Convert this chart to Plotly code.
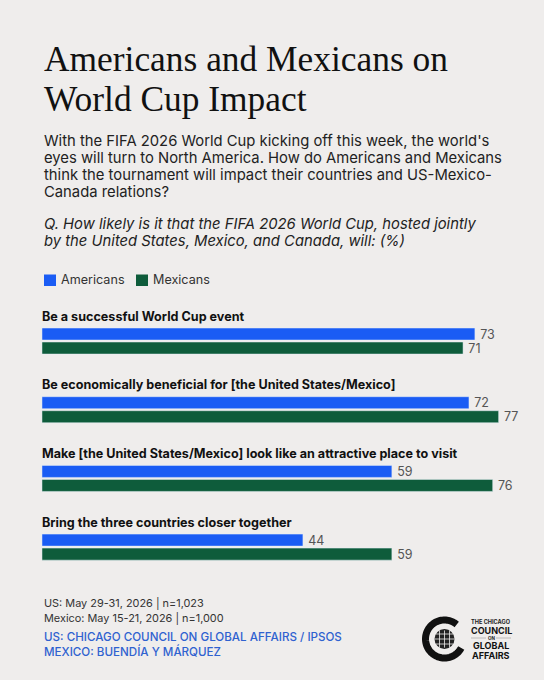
import numpy as np
import plotly.graph_objects as go

W, H = 544, 680

# data
categories = ["Be a successful World Cup event",
              "Be economically beneficial for [the United States/Mexico]",
              "Make [the United States/Mexico] look like an attractive place to visit",
              "Bring the three countries closer together"]
americans = [73, 72, 59, 44]
mexicans = [71, 77, 76, 59]

title_lines = ["Americans and Mexicans on", "World Cup Impact"]
body_lines = ["With the FIFA 2026 World Cup kicking off this week, the world's",
              "eyes will turn to North America. How do Americans and Mexicans",
              "think the tournament will impact their countries and US-Mexico-",
              "Canada relations?"]
question_lines = ["Q. How likely is it that the FIFA 2026 World Cup, hosted jointly",
                  "by the United States, Mexico, and Canada, will: (%)"]
note_lines = ["US: May 29-31, 2026 | n=1,023", "Mexico: May 15-21, 2026 | n=1,000"]
source_lines = ["US: CHICAGO COUNCIL ON GLOBAL AFFAIRS / IPSOS", "MEXICO: BUENDÍA Y MÁRQUEZ"]

BG = "#efedec"
BLUE = "#1a5cf4"
GREEN = "#0e5c3b"
SANS = "Inter"
SERIF = "Liberation Serif"

fig = go.Figure()
fig.add_trace(go.Bar(y=categories, x=americans, name="Americans", orientation="h",
                     marker_color=BLUE, text=americans, texttemplate="\u2009%{text}",
                     textposition="outside", constraintext="none", cliponaxis=False,
                     textfont=dict(family=SANS, size=12.5, color="#555555")))
fig.add_trace(go.Bar(y=categories, x=mexicans, name="Mexicans", orientation="h",
                     marker_color=GREEN, text=mexicans, texttemplate="\u2009%{text}",
                     textposition="outside", constraintext="none", cliponaxis=False,
                     textfont=dict(family=SANS, size=12.5, color="#555555")))


# helpers, everything outside the plot is placed in pixels from the top left
def label(x, y, text, size, color="#222222", family=SANS, **kw):
    fig.add_annotation(xref="paper", yref="paper", x=x / W, y=1 - y / H, text=text,
                       showarrow=False, xanchor=kw.pop("xanchor", "left"), yanchor="middle",
                       borderpad=0, borderwidth=0,
                       font=dict(family=family, size=size, color=color, **kw))


def px_path(points):
    return "M" + " L".join(f"{x / W:.5f},{1 - y / H:.5f}" for x, y in points)


def box(x0, y0, x1, y1, color):
    fig.add_shape(type="rect", xref="paper", yref="paper", x0=x0 / W, x1=x1 / W,
                  y0=1 - y0 / H, y1=1 - y1 / H, fillcolor=color, line_width=0)


def ring(cx, cy, r, start, end, width, color="#111111"):
    a = np.radians(np.linspace(start, end, 80))
    pts = list(zip(cx + r * np.cos(a), cy + r * np.sin(a)))
    fig.add_shape(type="path", xref="paper", yref="paper", path=px_path(pts),
                  line=dict(color=color, width=width))


# title and intro text
for y, t in zip([59, 99], title_lines):
    label(44, y, t, 35.4, "#111111", SERIF)
for y, t in zip([141, 158.2, 174.9, 191.5], body_lines):
    label(44, y, t, 14.8)
for y, t in zip([224, 240.7], question_lines):
    label(44, y, t, 14.8, style="italic")

# legend
box(44, 274.5, 56, 286, BLUE)
label(60.5, 279.5, "Americans", 12.6, "#333333")
box(136, 274.5, 148, 286, GREEN)
label(152.5, 279.5, "Mexicans", 12.6, "#333333")

# question labels above each bar pair
for c in categories:
    fig.add_annotation(xref="x", yref="y", x=0, y=c, text=c, showarrow=False, xanchor="left",
                       yanchor="middle", yshift=25, borderpad=0, borderwidth=0,
                       font=dict(family=SANS, size=12.6, color="#111111", weight=700))

# footer
for y, t in zip([603, 618], note_lines):
    label(44, y, t, 10.9, "#333333")
for y, t in zip([636.5, 651], source_lines):
    label(44, y, t, 11.6, "#2f62d0", weight=500)

# logo
cx, cy = 444.5, 639
ring(cx, cy, 19, 28, 310, 7)
fig.add_shape(type="circle", xref="paper", yref="paper", x0=(cx - 10) / W, x1=(cx + 10) / W,
              y0=1 - (cy - 10) / H, y1=1 - (cy + 10) / H, fillcolor="#222222", line_width=0)
for dy in [-5, 0, 5]:
    half = (100 - dy ** 2) ** 0.5
    fig.add_shape(type="line", xref="paper", yref="paper", x0=(cx - half) / W, x1=(cx + half) / W,
                  y0=1 - (cy + dy) / H, y1=1 - (cy + dy) / H, line=dict(color=BG, width=0.8))
for dx in [-5, 0, 5]:
    fig.add_shape(type="line", xref="paper", yref="paper", x0=(cx + dx) / W, x1=(cx + dx) / W,
                  y0=1 - (cy - 8.6) / H, y1=1 - (cy + 8.6) / H, line=dict(color=BG, width=0.8))
label(491, 622, "THE CHICAGO", 5.6, "#222222", xanchor="center", weight=700)
label(491, 630.5, "COUNCIL", 9, "#111111", xanchor="center", weight=700)
label(491, 638, "ON", 4.5, "#222222", xanchor="center", weight=700)
label(491, 645, "GLOBAL", 9, "#111111", xanchor="center", weight=700)
label(491, 655, "AFFAIRS", 9, "#111111", xanchor="center", weight=700)
for x0, x1 in [(471, 486), (496, 511)]:
    fig.add_shape(type="line", xref="paper", yref="paper", x0=x0 / W, x1=x1 / W,
                  y0=1 - 638 / H, y1=1 - 638 / H, line=dict(color="#999999", width=0.6))

fig.update_layout(
    width=W, height=H, margin=dict(l=0, r=0, t=0, b=0),
    paper_bgcolor=BG, plot_bgcolor=BG, showlegend=False,
    barmode="group", bargap=0.592, bargroupgap=0.143,
    xaxis=dict(range=[-7.08, 84.65], visible=False, fixedrange=True),
    yaxis=dict(domain=[0.1449, 0.549], range=[3.5, -0.5], visible=False, fixedrange=True),
)
# the page has a default 8px body margin
fig.write_html("out.html", config=dict(displayModeBar=False),
               post_script="document.body.style.margin='0';")
